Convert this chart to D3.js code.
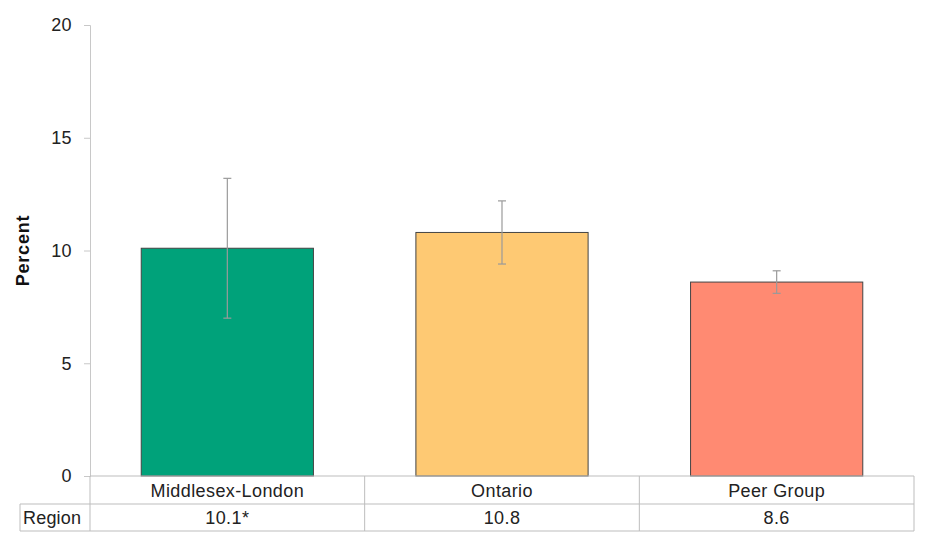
<!DOCTYPE html>
<html>
<head>
<meta charset="utf-8">
<script src="https://cdn.jsdelivr.net/npm/d3@7"></script>
<style>
  body { margin: 0; background: #fff; }
  svg { font-family: "Liberation Sans", Arial, sans-serif; }
</style>
</head>
<body>
<script>
// chart data
var categories = ["Middlesex-London", "Ontario", "Peer Group"];
var values = [10.1, 10.8, 8.6];
var lowerCI = [7.0, 9.4, 8.1];
var upperCI = [13.2, 12.2, 9.1];
var tableLabels = ["10.1*", "10.8", "8.6"];
var barColors = ["#00a27a", "#fec973", "#ff8a72"];
var yTicks = [0, 5, 10, 15, 20];

var width = 930, height = 558;
var margin = {top: 25, right: 16, bottom: 82, left: 90};

var svg = d3.select("body").append("svg")
            .attr("width", width)
            .attr("height", height);

var x = d3.scaleBand()
          .domain(categories)
          .range([margin.left, width - margin.right])
          .padding(0);

var y = d3.scaleLinear()
          .domain([0, 20])
          .range([height - margin.bottom, margin.top]);

var barW = x.bandwidth() * 0.627;

// y axis
var yAxis = d3.axisLeft(y).tickValues(yTicks).tickSize(6).tickPadding(12);
var gy = svg.append("g")
            .attr("transform", "translate(" + margin.left + ",0)")
            .call(yAxis);
gy.select(".domain").attr("stroke", "#c8c8c8");
gy.selectAll(".tick line").attr("stroke", "#c8c8c8");
gy.selectAll(".tick text")
  .attr("font-size", 18)
  .attr("letter-spacing", 0.4)
  .attr("fill", "#222");

// bars
svg.selectAll("rect.bar")
   .data(values)
   .enter().append("rect")
   .attr("class", "bar")
   .attr("x", function(d, i) { return x(categories[i]) + (x.bandwidth() - barW) / 2; })
   .attr("y", function(d) { return y(d); })
   .attr("width", barW)
   .attr("height", function(d) { return y(0) - y(d); })
   .attr("fill", function(d, i) { return barColors[i]; })
   .attr("stroke", "#444")
   .attr("stroke-width", 1);

// error bars
var err = svg.selectAll("g.err")
             .data(categories)
             .enter().append("g")
             .attr("class", "err")
             .attr("stroke", "#9a9a9a")
             .attr("stroke-width", 1.2);
err.append("line")
   .attr("x1", function(d) { return x(d) + x.bandwidth() / 2; })
   .attr("x2", function(d) { return x(d) + x.bandwidth() / 2; })
   .attr("y1", function(d, i) { return y(lowerCI[i]); })
   .attr("y2", function(d, i) { return y(upperCI[i]); });
[lowerCI, upperCI].forEach(function(arr) {
  err.append("line")
     .attr("x1", function(d) { return x(d) + x.bandwidth() / 2 - 4; })
     .attr("x2", function(d) { return x(d) + x.bandwidth() / 2 + 4; })
     .attr("y1", function(d, i) { return y(arr[i]); })
     .attr("y2", function(d, i) { return y(arr[i]); });
});

// data table under the axis
var row1 = y(0), row2 = row1 + 28, row3 = row2 + 27;
var left0 = 20;
var table = svg.append("g").attr("stroke", "#bdbdbd").attr("fill", "none");
table.append("line").attr("x1", margin.left).attr("x2", width - margin.right).attr("y1", row1).attr("y2", row1);
table.append("line").attr("x1", left0).attr("x2", width - margin.right).attr("y1", row2).attr("y2", row2);
table.append("line").attr("x1", left0).attr("x2", width - margin.right).attr("y1", row3).attr("y2", row3);
table.append("line").attr("x1", left0).attr("x2", left0).attr("y1", row2).attr("y2", row3);
table.append("line").attr("x1", margin.left).attr("x2", margin.left).attr("y1", row1).attr("y2", row3);
table.selectAll("line.col")
     .data(categories)
     .enter().append("line")
     .attr("x1", function(d) { return x(d) + x.bandwidth(); })
     .attr("x2", function(d) { return x(d) + x.bandwidth(); })
     .attr("y1", row1).attr("y2", row3);

svg.selectAll("text.cat")
   .data(categories)
   .enter().append("text")
   .attr("x", function(d) { return x(d) + x.bandwidth() / 2; })
   .attr("y", (row1 + row2) / 2 + 6.5)
   .attr("text-anchor", "middle")
   .attr("font-size", 18)
   .attr("letter-spacing", 0.4)
   .attr("fill", "#222")
   .text(function(d) { return d; });

svg.selectAll("text.val")
   .data(tableLabels)
   .enter().append("text")
   .attr("x", function(d, i) { return x(categories[i]) + x.bandwidth() / 2; })
   .attr("y", (row2 + row3) / 2 + 6.5)
   .attr("text-anchor", "middle")
   .attr("font-size", 18)
   .attr("letter-spacing", 0.4)
   .attr("fill", "#222")
   .text(function(d) { return d; });

svg.append("text")
   .attr("x", left0 + 3)
   .attr("y", (row2 + row3) / 2 + 6.5)
   .attr("font-size", 18)
   .attr("letter-spacing", 0.2)
   .attr("fill", "#222")
   .text("Region");

// y label
svg.append("text")
   .attr("transform", "translate(29," + y(10) + ") rotate(-90)")
   .attr("text-anchor", "middle")
   .attr("font-size", 18)
   .attr("letter-spacing", 0.8)
   .attr("font-weight", "bold")
   .attr("fill", "#111")
   .text("Percent");
</script>
</body>
</html>
